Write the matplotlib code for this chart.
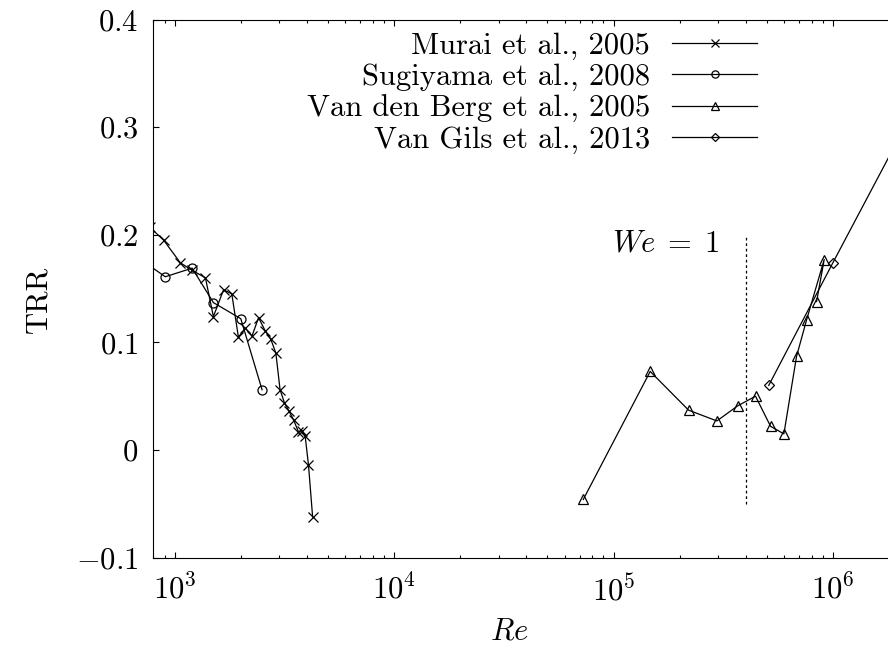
import matplotlib
matplotlib.use("Agg")
import matplotlib.pyplot as plt
from matplotlib.ticker import LogLocator, FixedLocator, FixedFormatter, NullFormatter

plt.rcParams['font.family'] = 'cmr10'
plt.rcParams['mathtext.fontset'] = 'cm'
plt.rcParams['axes.formatter.use_mathtext'] = True
plt.rcParams['font.size'] = 22

# data
murai_re = [770, 890, 1060, 1200, 1380, 1500, 1670, 1820, 1950, 2100, 2250, 2410,
            2580, 2740, 2890, 3020, 3160, 3320, 3480, 3660, 3800, 3930, 4070, 4250]
murai_trr = [0.207, 0.195, 0.174, 0.167, 0.160, 0.124, 0.149, 0.145, 0.105, 0.113, 0.106, 0.123,
             0.111, 0.103, 0.090, 0.056, 0.044, 0.036, 0.028, 0.017, 0.018, 0.013, -0.014, -0.062]

sugiyama_re = [700, 905, 1200, 1500, 2000, 2500]
sugiyama_trr = [0.177, 0.161, 0.169, 0.137, 0.122, 0.056]

berg_re = [7.28e4, 1.47e5, 2.2e5, 2.96e5, 3.68e5, 4.44e5, 5.2e5, 5.98e5, 6.83e5, 7.59e5, 9.13e5, 8.43e5]
berg_trr = [-0.046, 0.073, 0.037, 0.027, 0.041, 0.050, 0.022, 0.015, 0.087, 0.121, 0.177, 0.138]

gils_re = [5.1e5, 1.0e6, 2.0e6]
gils_trr = [0.060, 0.174, 0.290]

we1_re = 4.0e5
we1_span = [-0.05, 0.20]

yticks = [-0.1, 0, 0.1, 0.2, 0.3, 0.4]
yticklabels = [r'$-0.1$', r'$0$', r'$0.1$', r'$0.2$', r'$0.3$', r'$0.4$']

fig = plt.figure(figsize=(8.88, 6.52), dpi=100)
ax = fig.add_axes([0.17286, 0.14479, 0.83164, 0.82515])

lw = 0.9
ax.plot(murai_re, murai_trr, color='black', lw=lw, marker='x', ms=7, mew=0.9,
        label='Murai et al., 2005')
ax.plot(sugiyama_re, sugiyama_trr, color='black', lw=lw, marker='o', ms=6.5, mew=0.9,
        mfc='none', label='Sugiyama et al., 2008')
ax.plot(berg_re, berg_trr, color='black', lw=lw, marker='^', ms=6.5, mew=0.9,
        mfc='none', label='Van den Berg et al., 2005')
ax.plot(gils_re, gils_trr, color='black', lw=lw, marker='D', ms=5, mew=0.9,
        mfc='none', label='Van Gils et al., 2013')

ax.plot([we1_re, we1_re], we1_span, color='black', lw=0.9, ls=(0, (2.2, 2.2)))
ax.text(3.05e5, 0.192, r'$We\;=\;1$', ha='right', va='center')

ax.set_xscale('log')
ax.set_xlim(800, 1.86e6)
ax.set_ylim(-0.1, 0.4)
ax.xaxis.set_major_locator(LogLocator(base=10, numticks=10))
ax.xaxis.set_minor_locator(LogLocator(base=10, subs=range(2, 10), numticks=20))
ax.xaxis.set_minor_formatter(NullFormatter())
ax.yaxis.set_major_locator(FixedLocator(yticks))
ax.yaxis.set_major_formatter(FixedFormatter(yticklabels))

ax.tick_params(which='both', direction='in', top=True, right=False, width=0.8)
ax.tick_params(which='major', length=4.5)
ax.tick_params(which='minor', length=2.3)
ax.tick_params(axis='y', pad=11)
ax.tick_params(axis='x', pad=12)
for s in ax.spines.values():
    s.set_linewidth(0.8)

ax.set_xlabel(r'$Re$')
ax.xaxis.set_label_coords(0.481, -0.112)
ax.set_ylabel('TRR')
ax.yaxis.set_label_coords(-0.137, 0.479)

ax.legend(loc='upper right', bbox_to_anchor=(757 / 888, 1 - 32 / 652),
          bbox_transform=fig.transFigure, frameon=False, markerfirst=False,
          handlelength=2.78, handletextpad=0.72, labelspacing=0.12,
          borderpad=0, borderaxespad=0, markerscale=0.8)

fig.savefig('out.png', dpi=100)
